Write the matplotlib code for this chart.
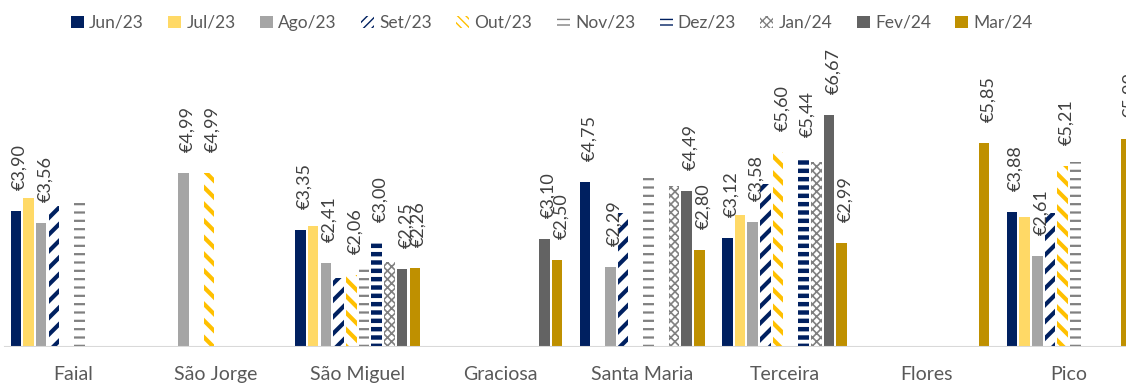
import numpy as np
import matplotlib.pyplot as plt
from matplotlib.patches import Patch

plt.rcParams['font.family'] = ['Lato', 'DejaVu Sans']

islands = ['Faial', 'São Jorge', 'São Miguel', 'Graciosa', 'Santa Maria',
           'Terceira', 'Flores', 'Pico']
months = ['Jun/23', 'Jul/23', 'Ago/23', 'Set/23', 'Out/23', 'Nov/23',
          'Dez/23', 'Jan/24', 'Fev/24', 'Mar/24']
nan = np.nan

# one list per month, values per island (nan = no data)
jun23 = [3.90, nan, 3.35, nan, 4.75, 3.12, nan, 3.88]
jul23 = [4.28, nan, 3.48, nan, nan, 3.79, nan, 3.74]
ago23 = [3.56, 4.99, 2.41, nan, 2.29, 3.58, nan, 2.61]
set23 = [4.06, nan, 1.98, nan, 3.85, 4.68, nan, 3.85]
out23 = [nan, 4.99, 2.06, nan, nan, 5.60, nan, 5.21]
nov23 = [4.31, nan, 2.36, nan, 4.87, nan, nan, 5.31]
dez23 = [nan, nan, 3.00, nan, nan, 5.44, nan, nan]
jan24 = [nan, nan, 2.44, nan, 4.63, 5.31, nan, nan]
fev24 = [nan, nan, 2.25, 3.10, 4.49, 6.67, nan, nan]
mar24 = [nan, nan, 2.26, 2.50, 2.80, 2.99, 5.85, 5.99]

series = [jun23, jul23, ago23, set23, out23, nov23, dez23, jan24, fev24, mar24]
labelled = [True, False, True, False, True, False, True, False, True, True]

navy = '#002060'
gold = '#FFC000'
# hatch = pattern in bars, lhatch = denser version for the small legend keys
styles = [
    dict(color=navy),
    dict(color='#FFD966'),
    dict(color='#A5A5A5'),
    dict(color='white', edgecolor=navy, hatch='//', lhatch='////', hlw=3.0),
    dict(color='white', edgecolor=gold, hatch='\\\\', lhatch='\\\\\\\\', hlw=3.0),
    dict(color='white', edgecolor='#808080', hatch='--', lhatch='---', hlw=1.6),
    dict(color='white', edgecolor=navy, hatch='--', lhatch='---', hlw=3.2),
    dict(color='white', edgecolor='#808080', hatch='xxxx', lhatch='xxxx', hlw=1.2),
    dict(color='#636363'),
    dict(color='#BF9000'),
]

fig = plt.figure(figsize=(11.26, 3.83), dpi=100)
ax = fig.add_axes([0, 0.094, 1, 0.906])

x = np.arange(len(islands))
slot = 0.0893
width = 0.074
handles = []
for k, (vals, st) in enumerate(zip(series, styles)):
    xs = x + (k - 4.5) * slot
    hatch = st.get('hatch')
    with plt.rc_context({'hatch.linewidth': st.get('hlw', 1.0)}):
        if hatch:
            ax.bar(xs, vals, width, color=st['color'], edgecolor=st['edgecolor'],
                   hatch=hatch, linewidth=0)
            h = Patch(facecolor='white', edgecolor=st['edgecolor'], hatch=st['lhatch'],
                      linewidth=0)
        else:
            ax.bar(xs, vals, width, color=st['color'], linewidth=0)
            h = Patch(facecolor=st['color'], linewidth=0)
    handles.append(h)
    if labelled[k]:
        for xi, v in zip(xs, vals):
            if np.isnan(v):
                continue
            ax.annotate('€' + f'{v:.2f}'.replace('.', ','), (xi, v),
                        xytext=(4, 21), textcoords='offset pixels', rotation=90,
                        ha='center', va='bottom', fontsize=13, color='#404040',
                        annotation_clip=False)

ax.set_xlim(-0.513, 7.40)
ax.set_ylim(0, 9.97)
ax.axhline(0, xmin=0.004, xmax=1, color='#D9D9D9', lw=1.5)
for s in ax.spines.values():
    s.set_visible(False)
ax.set_yticks([])
ax.set_xticks(x)
ax.set_xticklabels(islands, fontsize=14, color='#595959')
ax.tick_params(axis='x', length=0, pad=14)

fig.legend(handles, months, loc='center', bbox_to_anchor=(0.49, 0.94), ncol=10,
           frameon=False, fontsize=12.5, labelcolor='#595959', handlelength=0.75,
           handleheight=0.75, handletextpad=0.3, columnspacing=1.4)

fig.savefig('out.png', dpi=100)
